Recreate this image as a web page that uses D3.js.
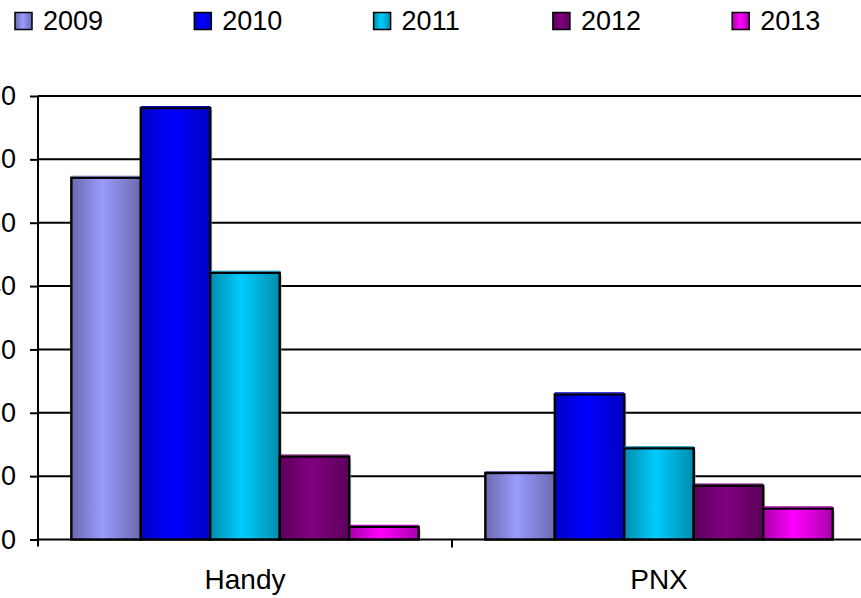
<!DOCTYPE html>
<html>
<head>
<meta charset="utf-8" />
<script src="https://cdnjs.cloudflare.com/ajax/libs/d3/7.8.5/d3.min.js"></script>
<style>
body { margin: 0; background: #fff; }
svg { display: block; font-family: "Liberation Sans", Arial, sans-serif; }
</style>
</head>
<body>
<svg id="chart" width="861" height="598"></svg>
<script>
// data
var categories = ["Handy", "PNX"];
var years = ["2009", "2010", "2011", "2012", "2013"];
var handy = [57.1, 68.1, 42.1, 13.1, 2.0];
var pnx = [10.5, 22.9, 14.4, 8.5, 4.9];
var yTicks = [0, 10, 20, 30, 40, 50, 60, 70];
// colour per year: edge, middle
var edgeColors = ["#6a6aae", "#0000c4", "#008cac", "#5c005c", "#a800a8"];
var midColors = ["#9b9bff", "#0000ff", "#00ccff", "#800080", "#ff00ff"];

var rows = [
  { cat: "Handy", vals: handy },
  { cat: "PNX", vals: pnx }
];

var svg = d3.select("#chart");

var plotLeft = 38, plotRight = 866, plotTop = 96, plotBottom = 539.5;

var x0 = d3.scaleBand().domain(categories).range([plotLeft, plotRight]);
var x1 = d3.scaleBand().domain(years).range([0, x0.bandwidth()]).paddingOuter(0.48);
var y = d3.scaleLinear().domain([0, 70]).range([plotBottom, plotTop]);

// gradients
var defs = svg.append("defs");
years.forEach(function(yr, i) {
  var g = defs.append("linearGradient")
    .attr("id", "grad" + yr)
    .attr("x1", "0%").attr("x2", "100%").attr("y1", "0%").attr("y2", "0%");
  g.append("stop").attr("offset", "0%").attr("stop-color", edgeColors[i]);
  g.append("stop").attr("offset", "45%").attr("stop-color", midColors[i]);
  g.append("stop").attr("offset", "100%").attr("stop-color", edgeColors[i]);
});

// grid lines
svg.append("g")
  .selectAll("line")
  .data(yTicks.slice(1))
  .join("line")
  .attr("x1", plotLeft).attr("x2", 861)
  .attr("y1", function(d) { return y(d); })
  .attr("y2", function(d) { return y(d); })
  .attr("stroke", "#000").attr("stroke-width", 2);

// y axis
var yAxis = svg.append("g")
  .attr("transform", "translate(" + plotLeft + ",0)")
  .call(d3.axisLeft(y).tickValues(yTicks).tickSize(8).tickPadding(14).tickSizeOuter(0));
yAxis.select(".domain").attr("stroke", "#000").attr("stroke-width", 2)
  .attr("d", "M0," + plotTop + "V" + (plotBottom + 7));
yAxis.selectAll(".tick line").attr("stroke-width", 2);
yAxis.selectAll(".tick text")
  .attr("font-size", 27).attr("fill", "#000")
  .attr("font-family", "Liberation Sans, Arial, sans-serif");

// x axis
var xAxis = svg.append("g")
  .attr("transform", "translate(0," + plotBottom + ")")
  .call(d3.axisBottom(x0).tickSize(0).tickPadding(30));
xAxis.select(".domain").attr("stroke", "#000").attr("stroke-width", 2)
  .attr("d", "M" + plotLeft + ",0H861");
xAxis.selectAll(".tick text")
  .attr("font-size", 28).attr("fill", "#000")
  .attr("font-family", "Liberation Sans, Arial, sans-serif");
// category separators
svg.append("g")
  .selectAll("line")
  .data(categories.slice(1))
  .join("line")
  .attr("x1", function(d) { return x0(d); })
  .attr("x2", function(d) { return x0(d); })
  .attr("y1", plotBottom).attr("y2", plotBottom + 8)
  .attr("stroke", "#000").attr("stroke-width", 2);

// bars
var groups = svg.append("g")
  .selectAll("g")
  .data(rows)
  .join("g")
  .attr("transform", function(d) { return "translate(" + x0(d.cat) + ",0)"; });

var bars = groups.selectAll("g")
  .data(function(d) { return d.vals.map(function(v, i) { return { yr: years[i], v: v, i: i }; }); })
  .join("g");

bars.append("rect")
  .attr("x", function(d) { return x1(d.yr) + 2; })
  .attr("y", function(d) { return y(d.v) + 2; })
  .attr("width", x1.bandwidth())
  .attr("height", function(d) { return plotBottom - y(d.v) - 2; })
  .attr("fill", "#999").attr("opacity", 0.6);

bars.append("rect")
  .attr("x", function(d) { return x1(d.yr); })
  .attr("y", function(d) { return y(d.v); })
  .attr("width", x1.bandwidth())
  .attr("height", function(d) { return plotBottom - y(d.v); })
  .attr("fill", function(d) { return "url(#grad" + d.yr + ")"; })
  .attr("stroke", "#000").attr("stroke-width", 2.4);

bars.append("line")
  .attr("x1", function(d) { return x1(d.yr); })
  .attr("x2", function(d) { return x1(d.yr) + x1.bandwidth(); })
  .attr("y1", function(d) { return y(d.v) - 1.5; })
  .attr("y2", function(d) { return y(d.v) - 1.5; })
  .attr("stroke", function(d) { return edgeColors[d.i]; }).attr("stroke-width", 1.2);

// legend
var legend = svg.append("g")
  .selectAll("g")
  .data(years)
  .join("g")
  .attr("transform", function(d, i) { return "translate(" + (15 + i * 179.3) + ",12.5)"; });

legend.append("rect")
  .attr("width", 17).attr("height", 17)
  .attr("fill", function(d) { return "url(#grad" + d + ")"; })
  .attr("stroke", "#000").attr("stroke-width", 1.5);

legend.append("text")
  .attr("x", 28).attr("y", 17)
  .attr("font-size", 27)
  .attr("fill", "#000")
  .text(function(d) { return d; });
</script>
</body>
</html>
